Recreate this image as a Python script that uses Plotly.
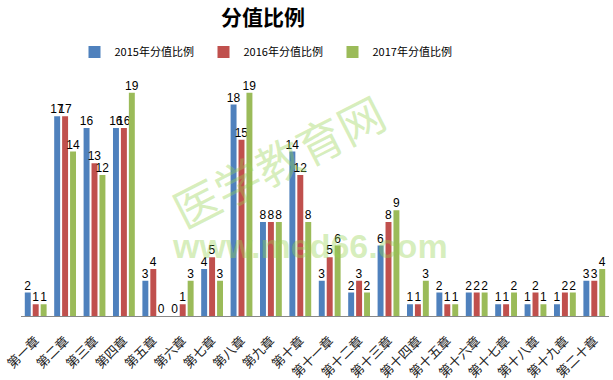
import plotly.graph_objects as go

chapters = ["第一章", "第二章", "第三章", "第四章", "第五章", "第六章", "第七章", "第八章", "第九章", "第十章",
            "第十一章", "第十二章", "第十三章", "第十四章", "第十五章", "第十六章", "第十七章", "第十八章", "第十九章", "第二十章"]
s2015 = [2, 17, 16, 16, 3, 0, 4, 18, 8, 14, 3, 2, 6, 1, 2, 2, 1, 1, 1, 3]
s2016 = [1, 17, 13, 16, 4, 1, 5, 15, 8, 12, 5, 3, 8, 1, 1, 2, 1, 2, 2, 3]
s2017 = [1, 14, 12, 19, 0, 3, 3, 19, 8, 8, 6, 2, 9, 3, 1, 2, 2, 1, 2, 4]
names = ["2015年分值比例", "2016年分值比例", "2017年分值比例"]
colors = ["#4F81BD", "#C0504D", "#9BBB59"]

W, H = 613, 380
ml, mr, mt, mb = 21, 4, 81, 64
PW, PH = W - ml - mr, H - mt - mb


def px(xp):
    return (xp - ml) / PW


def py(yp):
    return (H - mb - yp) / PH


fig = go.Figure()
for name, vals, col in zip(names, [s2015, s2016, s2017], colors):
    fig.add_trace(go.Bar(
        x=chapters, y=vals, name=name, marker=dict(color=col, line=dict(width=0)),
        text=[str(v) for v in vals], textposition="outside", cliponaxis=False,
        constraintext="none",
        textfont=dict(family="Liberation Sans, Arial", size=12, color="#000"),
    ))

fig.update_layout(
    width=W, height=H,
    margin=dict(l=ml, r=mr, t=mt, b=mb, autoexpand=False),
    paper_bgcolor="white", plot_bgcolor="white",
    barmode="group", bargap=0.19, bargroupgap=0.25,
    title=dict(text="<b>分值比例</b>", x=263 / W, xanchor="center", y=1 - 18 / H, yanchor="middle",
               font=dict(family="Noto Sans CJK SC", size=21, color="#000")),
    legend=dict(orientation="h", x=268 / W, xanchor="center", y=1 - 52 / H, yanchor="middle",
                xref="container", yref="container",
                font=dict(family="Noto Sans CJK SC", size=11, color="#000"),
                itemwidth=30, entrywidth=84, entrywidthmode="pixels",
                traceorder="normal", bgcolor="rgba(0,0,0,0)"),
    showlegend=True,
)
fig.update_xaxes(showline=True, linecolor="#888", linewidth=1, ticks="", tickangle=-45,
                 automargin=False, range=[-0.5, 19.5], ticklabelstandoff=11,
                 tickfont=dict(family="Noto Sans CJK SC", size=13, color="#222"), showgrid=False)
fig.update_yaxes(visible=False, range=[0, 20], showgrid=False, zeroline=False, automargin=False)

# watermark
fig.add_annotation(text="医学教育网", xref="paper", yref="paper",
                   x=px(278), y=py(160), xanchor="center", yanchor="middle",
                   showarrow=False, textangle=-27,
                   font=dict(family="Noto Sans CJK SC", size=46, color="rgba(150,210,80,0.38)"))
fig.add_annotation(text="<b>www.med66.com</b>", xref="paper", yref="paper",
                   x=px(310), y=py(246), xanchor="center", yanchor="middle",
                   showarrow=False,
                   font=dict(family="Liberation Sans, Arial", size=34, color="rgba(150,210,80,0.38)"))

fig.write_html("out.html", config={"displayModeBar": False},
               post_script="document.body.style.margin='0';document.body.style.overflow='hidden';")
